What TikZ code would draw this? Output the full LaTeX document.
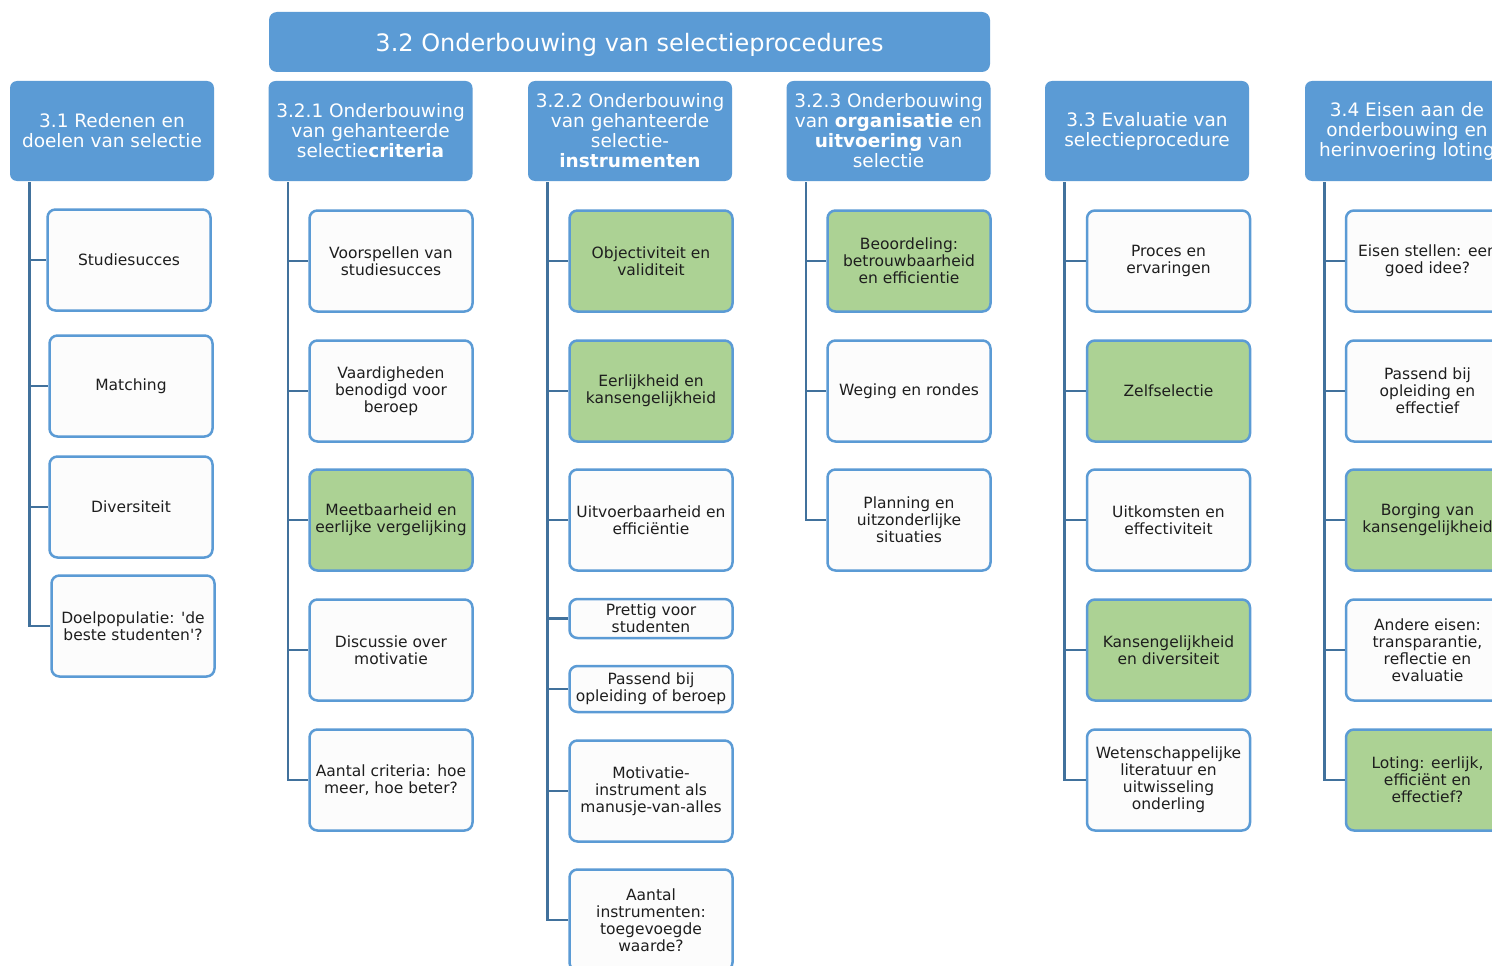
\documentclass[tikz,border=0pt]{standalone}
\usepackage{fontspec}
\setmainfont{DejaVu Sans}[Ligatures=TeXOff]
\definecolor{hdr}{RGB}{91,155,213}
\definecolor{brd}{RGB}{91,155,213}
\definecolor{lnk}{RGB}{65,113,156}
\definecolor{grn}{RGB}{172,210,148}
\definecolor{wht}{RGB}{252,252,252}
\definecolor{txt}{RGB}{30,30,30}
\tikzset{
 hdrbox/.style={fill=hdr, rounded corners=7pt, text=white, align=center, inner sep=0pt, minimum width=204pt, minimum height=100pt, font=\fontsize{18.5}{20}\selectfont},
 titlebox/.style={fill=hdr, rounded corners=8pt, text=white, align=center, inner sep=0pt, minimum width=721pt, minimum height=60pt, text depth=0pt, font=\fontsize{24}{28}\selectfont},
 leafbox/.style={fill=wht, draw=brd, line width=2.5pt, rounded corners=8pt, text=txt, align=center, inner sep=0pt, minimum width=163pt, minimum height=101pt, font=\fontsize{15.5}{17}\selectfont},
 greenbox/.style={leafbox, fill=grn},
 link/.style={draw=lnk, line width=2.5pt}
}
\begin{document}
\begin{tikzpicture}[x=1pt,y=-1pt]
\useasboundingbox (0,0) rectangle (1492,966);
\clip (0,0) rectangle (1492,966);
\fill[white] (0,0) rectangle (1492,966);
% title and headers
\node[titlebox] (title) at (629.5,42) {3.2 Onderbouwing van selectieprocedures};
\node[hdrbox] (h1) at (112,131) {3.1 Redenen en\\doelen van selectie};
\node[hdrbox] (h2) at (370.5,131) {3.2.1 Onderbouwing\\van gehanteerde\\selectie\textbf{criteria}};
\node[hdrbox] (h3) at (630,131) {3.2.2 Onderbouwing\\van gehanteerde\\selectie-\\\textbf{instrumenten}};
\node[hdrbox] (h4) at (888.5,131) {3.2.3 Onderbouwing\\van \textbf{organisatie} en\\\textbf{uitvoering} van\\selectie};
\node[hdrbox] (h5) at (1147,131) {3.3 Evaluatie van\\selectieprocedure};
\node[hdrbox] (h6) at (1407,131) {3.4 Eisen aan de\\onderbouwing en\\herinvoering loting};
% column 1
\node[leafbox] (a1) at (129,260) {Studiesucces};
\node[leafbox] (a2) at (131,386) {Matching};
\node[leafbox] (a3) at (131,507) {Diversiteit};
\node[leafbox] (a4) at (133,626) {Doelpopulatie: 'de\\beste studenten'?};
% column 2
\node[leafbox] (b1) at (391,261) {Voorspellen van\\studiesucces};
\node[leafbox] (b2) at (391,391) {Vaardigheden\\benodigd voor\\beroep};
\node[greenbox] (b3) at (391,520) {Meetbaarheid en\\eerlijke vergelijking};
\node[leafbox] (b4) at (391,650) {Discussie over\\motivatie};
\node[leafbox] (b5) at (391,780) {Aantal criteria: hoe\\meer, hoe beter?};
% column 3
\node[greenbox] (c1) at (651,261) {Objectiviteit en\\validiteit};
\node[greenbox] (c2) at (651,391) {Eerlijkheid en\\kansengelijkheid};
\node[leafbox] (c3) at (651,520) {Uitvoerbaarheid en\\efficiëntie};
\node[leafbox, minimum height=39pt] (c4) at (651,618.5) {Prettig voor\\studenten};
\node[leafbox, minimum height=46pt] (c5) at (651,689) {Passend bij\\opleiding of beroep};
\node[leafbox] (c6) at (651,791) {Motivatie-\\instrument als\\manusje-van-alles};
\node[leafbox] (c7) at (651,920) {Aantal\\instrumenten:\\toegevoegde\\waarde?};
% column 4
\node[greenbox] (d1) at (909,261) {Beoordeling:\\betrouwbaarheid\\en efficientie};
\node[leafbox] (d2) at (909,391) {Weging en rondes};
\node[leafbox] (d3) at (909,520) {Planning en\\uitzonderlijke\\situaties};
% column 5
\node[leafbox] (e1) at (1168.5,261) {Proces en\\ervaringen};
\node[greenbox] (e2) at (1168.5,391) {Zelfselectie};
\node[leafbox] (e3) at (1168.5,520) {Uitkomsten en\\effectiviteit};
\node[greenbox] (e4) at (1168.5,650) {Kansengelijkheid\\en diversiteit};
\node[leafbox] (e5) at (1168.5,780) {Wetenschappelijke\\literatuur en\\uitwisseling\\onderling};
% column 6
\node[leafbox] (f1) at (1427.5,261) {Eisen stellen: een\\goed idee?};
\node[leafbox] (f2) at (1427.5,391) {Passend bij\\opleiding en\\effectief};
\node[greenbox] (f3) at (1427.5,520) {Borging van\\kansengelijkheid};
\node[leafbox] (f4) at (1427.5,650) {Andere eisen:\\transparantie,\\reflectie en\\evaluatie};
\node[greenbox] (f5) at (1427.5,780) {Loting: eerlijk,\\efficiënt en\\effectief?};
% connectors
\foreach \h/\list in {h1/{a1,a2,a3,a4}, h2/{b1,b2,b3,b4,b5}, h3/{c1,c2,c3,c4,c5,c6,c7}, h4/{d1,d2,d3}, h5/{e1,e2,e3,e4,e5}, h6/{f1,f2,f3,f4,f5}}{
  \foreach \c in \list {
    \draw[link] ([xshift=19.5pt,yshift=-1pt]\h.south west) |- (\c.west);
  }
}
\end{tikzpicture}
\end{document}
